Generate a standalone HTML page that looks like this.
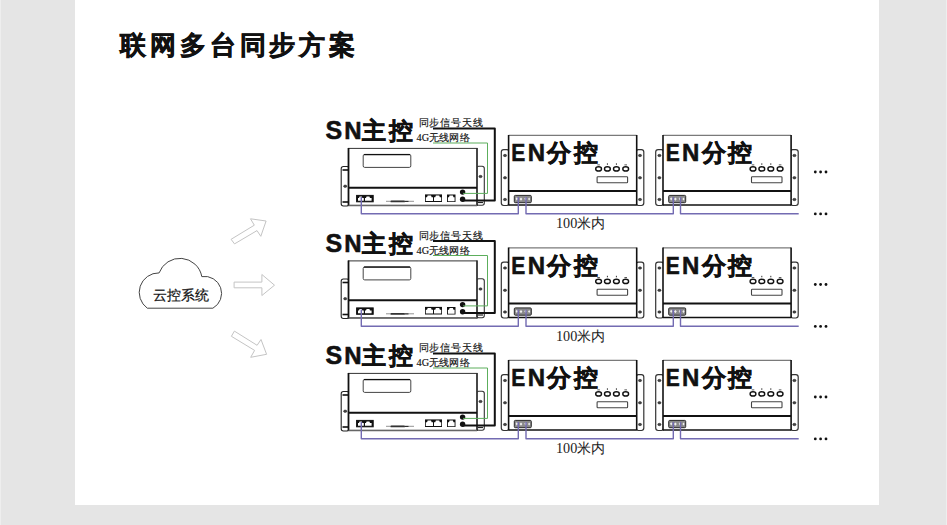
<!DOCTYPE html>
<html><head><meta charset="utf-8">
<style>
html,body{margin:0;padding:0;background:#e5e5e5;width:947px;height:525px;overflow:hidden;font-family:"Liberation Sans",sans-serif;}
#panel{position:absolute;left:75px;top:0;width:804px;height:505px;background:#fff;}
#title{position:absolute;left:120px;top:27px;font-size:26px;font-weight:900;letter-spacing:3.9px;color:#111;-webkit-text-stroke:0.6px #111;white-space:nowrap;line-height:36px;}
svg{position:absolute;left:0;top:0;}
</style></head><body>
<div id="panel"></div><div style="position:absolute;left:0;top:0;width:1px;height:525px;background:#eeeeee"></div><div style="position:absolute;left:946px;top:0;width:1px;height:525px;background:#eeeeee"></div>
<div id="title">联网多台同步方案</div>
<svg width="947" height="525" viewBox="0 0 947 525" font-family="Liberation Sans, sans-serif">
<defs>
  <g id="jack">
    <path d="M0.3 5.6 V2.6 H1.6 L2.3 1.2 H5.2 L5.9 2.6 H7.2 V5.6 Z" fill="#fff" stroke="#222" stroke-width="0.8"/>
  </g>
  <g id="hole"><ellipse cx="0" cy="0" rx="1.6" ry="1.2" fill="#444" stroke="#222" stroke-width="0.5"/></g>
  <g id="en">
    <!-- brackets -->
    <rect x="501.3" y="149.7" width="8" height="55.8" rx="2.4" fill="#fff" stroke="#333" stroke-width="1.2"/>
    <rect x="636" y="149.7" width="7.8" height="55.8" rx="2.4" fill="#fff" stroke="#333" stroke-width="1.2"/>
    <use href="#hole" x="505" y="155.5"/><use href="#hole" x="505" y="177.8"/><use href="#hole" x="505" y="199.5"/>
    <use href="#hole" x="640" y="155.5"/><use href="#hole" x="640" y="177.8"/><use href="#hole" x="640" y="199.5"/>
    <!-- body -->
    <rect x="508.6" y="135.3" width="128" height="69.7" fill="#fff"/>
    <line x1="508.6" y1="135.3" x2="636.6" y2="135.3" stroke="#7a7a7a" stroke-width="1.2"/>
    <line x1="508.6" y1="135" x2="508.6" y2="205.2" stroke="#111" stroke-width="1.6"/>
    <line x1="636.7" y1="135" x2="636.7" y2="205.2" stroke="#111" stroke-width="1.6"/>
    <line x1="508.6" y1="191" x2="636.6" y2="191" stroke="#111" stroke-width="1.9"/>
    <line x1="508.6" y1="205" x2="636.6" y2="205" stroke="#111" stroke-width="1.5"/>
    <text y="161.3" font-weight="bold" fill="#111" stroke="#111" stroke-width="0.55"><tspan x="511.3" font-size="24" textLength="14" lengthAdjust="spacingAndGlyphs">E</tspan><tspan x="527.7" font-size="24">N</tspan><tspan x="547.3" font-size="23.5">分</tspan><tspan x="573.8" font-size="23.5">控</tspan></text>
    <!-- buttons -->
    <g fill="#fff" stroke="#111" stroke-width="1.4">
      <ellipse cx="598.6" cy="168.9" rx="2.9" ry="2.1"/>
      <ellipse cx="607.4" cy="168.9" rx="2.9" ry="2.1"/>
      <ellipse cx="616.4" cy="168.9" rx="2.9" ry="2.1"/>
      <ellipse cx="625.7" cy="168.9" rx="2.9" ry="2.1"/>
    </g>
    <g fill="#333"><rect x="597.3" y="164.5" width="2.6" height="0.8"/><rect x="606.9" y="163.3" width="1" height="1.5"/><rect x="615.9" y="163.3" width="1" height="1.5"/><rect x="624.4" y="164.5" width="2.6" height="0.8"/></g>
    <rect x="597.1" y="176.8" width="30.5" height="6" rx="0.8" fill="#fff" stroke="#444" stroke-width="1.1"/>
    <!-- port -->
    <rect x="514.3" y="195.4" width="17" height="7.3" rx="1" fill="#8a8a8a" stroke="#2a2a2a" stroke-width="1"/>
    <path d="M515.6 198.8 L516.8 197.2 L518 198.8 L516.8 200.6 Z M519.6 199 L521 197.4 L522.4 199 L521 200.8 Z M524.3 198.8 L525.5 197.2 L526.7 198.8 L525.5 200.6 Z M528 199 L529.2 197.5 L530.2 199 L529.2 200.6 Z" fill="#f0f0f0"/>
  </g>
  <g id="row">
    <text y="139.2" font-weight="bold" fill="#111" stroke="#111" stroke-width="0.55"><tspan x="325.5" font-size="25">S</tspan><tspan x="344.2" font-size="24">N</tspan><tspan x="361.8" font-size="23.5">主</tspan><tspan x="388.8" font-size="23.5">控</tspan></text>
    <text x="418.5" y="126" textLength="64" font-size="10.3" fill="#111" stroke="#111" stroke-width="0.15" font-family="Liberation Serif, serif">同步信号天线</text>
    <text x="416.5" y="141.4" textLength="53" font-size="10.3" fill="#111" stroke="#111" stroke-width="0.15" font-family="Liberation Serif, serif">4G无线网络</text>
    <!-- SN brackets -->
    <rect x="341.2" y="166.5" width="8" height="39.5" rx="2.2" fill="#fff" stroke="#222" stroke-width="1.1"/>
    <rect x="476.5" y="166.3" width="7.8" height="39" rx="2.2" fill="#fff" stroke="#333" stroke-width="1.1"/>
    <line x1="342.5" y1="170" x2="348" y2="170" stroke="#111" stroke-width="1.6"/>
    <line x1="342.5" y1="202" x2="348" y2="202" stroke="#111" stroke-width="1.6"/>
    <use href="#hole" x="345.2" y="186.2"/>
    <use href="#hole" x="480.5" y="176.5"/>
    <line x1="477.5" y1="202.5" x2="483" y2="202.5" stroke="#222" stroke-width="1.2"/>
    <!-- SN body -->
    <rect x="348.5" y="148.4" width="128.5" height="57" fill="#fff" stroke="#333" stroke-width="1"/>
    <line x1="348.5" y1="148" x2="348.5" y2="206" stroke="#111" stroke-width="1.8"/>
    <line x1="477" y1="148" x2="477" y2="206" stroke="#333" stroke-width="1.6"/>
    <line x1="348.5" y1="205.5" x2="477" y2="205.5" stroke="#666" stroke-width="1.4"/>
    <line x1="348.5" y1="187.7" x2="477" y2="187.7" stroke="#111" stroke-width="2"/>
    <rect x="363.2" y="154.4" width="47.6" height="13" rx="1.5" fill="#fff" stroke="#444" stroke-width="1"/>
    <line x1="364" y1="154.6" x2="410" y2="154.6" stroke="#111" stroke-width="1.4"/>
    <!-- ports -->
    <rect x="356.6" y="195.4" width="16.6" height="6.4" fill="#111" stroke="#111" stroke-width="1"/>
    <path d="M358 200.8 V198 H359 L359.6 196.6 H361.8 L362.4 198 H363.8 V200.8 Z M365 200.8 V198 H366 L366.6 196.6 H369.4 L370 198 H371.6 V200.8 Z" fill="#fff"/>
    <line x1="386" y1="201.3" x2="414" y2="201.3" stroke="#777" stroke-width="0.8"/>
    <rect x="390.5" y="200.5" width="14.5" height="1.8" rx="0.9" fill="#333"/>
    <rect x="405" y="200.9" width="3.5" height="1" fill="#222"/>
    <rect x="425" y="194.4" width="17" height="7.6" fill="#111"/>
    <path d="M425.8 201 V197.3 H427 L427.7 195.6 H431 L431.7 197.3 H433 V201 Z M434 201 V197.3 H435.2 L435.9 195.6 H439.2 L439.9 197.3 H441.2 V201 Z" fill="#fff"/>
    <rect x="447" y="194.5" width="8.5" height="7.5" fill="#111"/>
    <path d="M447.9 201.2 V197.3 H449 L449.6 195.6 H452.9 L453.5 197.3 H454.6 V201.2 Z" fill="#fff"/>
    <circle cx="462.6" cy="192.1" r="2.7" fill="#111"/>
    <circle cx="462.6" cy="199.2" r="2.7" fill="#111"/>
    <use href="#en"/>
    <use href="#en" transform="translate(154.4,0)"/>
    <!-- cables -->
    <path d="M433 128.5 H494.8 V200.6 H463" fill="none" stroke="#111" stroke-width="2" stroke-linejoin="round"/>
    <path d="M433 143 H487.5 V193.4 H463" fill="none" stroke="#5cae5c" stroke-width="1"/>
    <g fill="none" stroke="#736bb2" stroke-width="1.4" stroke-linejoin="round">
      <path d="M361.3 197 V213.7 H518.3 V197"/>
      <path d="M526 197 V213.7 H673.3 V197"/>
      <path d="M680.5 197 V213.7 H798.7"/>
    </g>
    <text x="556" y="228.2" font-size="14.2" fill="#1a1a1a" font-family="Liberation Serif, serif">100米内</text>
    <g fill="#111">
      <circle cx="815.3" cy="172" r="1.4"/><circle cx="820.6" cy="172" r="1.4"/><circle cx="826" cy="172" r="1.4"/>
      <circle cx="815.3" cy="213.9" r="1.4"/><circle cx="820.6" cy="213.9" r="1.4"/><circle cx="826" cy="213.9" r="1.4"/>
    </g>
  </g>
</defs>
<use href="#row"/>
<use href="#row" transform="translate(0,112.5)"/>
<use href="#row" transform="translate(0,225)"/>
<!-- cloud -->
<path d="M147.3 308.2 A19.5 19.5 0 0 1 159.1 272.9 A22.2 22.2 0 0 1 201.8 276.6 A17 17 0 0 1 212.9 308.2 Z" fill="#fff" stroke="#444" stroke-width="1"/>
<text x="153" y="299.5" font-size="14" fill="#111" stroke="#111" stroke-width="0.2">云控系统</text>
<!-- arrows -->
<g fill="none" stroke="#c4c4c4" stroke-width="1">
<path d="M231.1 239.3 L234.5 243.9 L257 230.6 L260.8 236.3 L266.1 221 L250.5 218.8 L254.3 225.2 Z"/>
<path d="M234.1 282.1 V287.8 H261.9 V295.5 L274.5 285.2 L261.9 274.5 V282.1 Z"/>
<path d="M234.4 331.1 L257.1 345.3 L261 339.5 L266.6 354.3 L250.7 357.3 L254.6 350.4 L231.4 336.3 Z"/>
</g>
</svg>
</body></html>
